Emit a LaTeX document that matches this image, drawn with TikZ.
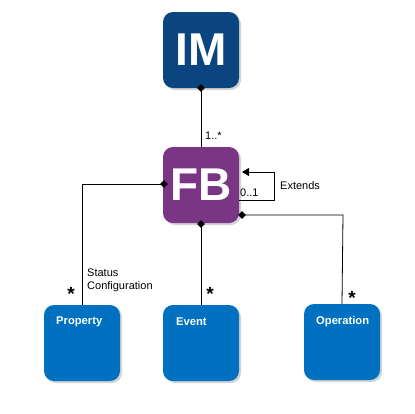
\documentclass[tikz,border=0pt]{standalone}
\usepackage{fontspec}
\setmainfont{Liberation Sans}
\usetikzlibrary{shadows}
\definecolor{imblue}{HTML}{0B4580}
\definecolor{fbpurple}{HTML}{7B3585}
\definecolor{boxblue}{HTML}{0070C0}
\tikzset{
  x=1pt, y=-1pt,
  bigbox/.style={rounded corners=10pt, minimum width=76pt, minimum height=76pt, inner sep=0pt,
     text=white, font=\bfseries\fontsize{46}{46}\selectfont, drop shadow={shadow xshift=2pt, shadow yshift=-2pt, opacity=0.35}},
  smallbox/.style={rounded corners=10pt, fill=boxblue, minimum width=76pt, minimum height=76pt, inner sep=0pt,
     drop shadow={shadow xshift=2pt, shadow yshift=-2pt, opacity=0.35}},
  boxlabel/.style={text=white, font=\bfseries\fontsize{11.2}{12}\selectfont, inner sep=0pt},
  lbl/.style={font=\fontsize{11}{13}\selectfont, inner sep=0pt},
  star/.style={font=\bfseries\fontsize{19}{19}\selectfont, inner sep=0pt},
  conn/.style={draw=black, line width=0.8pt},
  dia/.style={fill=black, diamond, inner sep=0pt, minimum size=8pt},
}
\usetikzlibrary{shapes.geometric,arrows.meta}
\begin{document}
\begin{tikzpicture}
\useasboundingbox (0,0) rectangle (415,413);
\node[bigbox, fill=imblue] (im) at (201,50) {IM};
\node[bigbox, fill=fbpurple] (fb) at (201,185) {FB};
\node[smallbox] (prop) at (82,343) {};
\node[smallbox] (evt) at (201,343) {};
\node[smallbox] (op) at (342,342) {};
\node[boxlabel, anchor=west] at (56,322) {Property};
\node[boxlabel, anchor=west] at (176,322) {Event};
\node[boxlabel, anchor=west] at (316,322) {Operation};
% diamonds
\coordinate (imb) at (201,88);
\coordinate (fbl) at (164,184);
\coordinate (fbb) at (201,224);
\coordinate (fbr) at (242,215);
\coordinate (loopin) at (242,172);
\coordinate (loopout) at (239,200);
\coordinate (loopa) at (274,172);
\coordinate (loopb) at (274,200);
\coordinate (propc) at (82,184);
\coordinate (opc) at (343,215);
\draw[conn] (imb) -- (fb.north);
\draw[conn] (fbl) -- (propc) -- (prop.north);
\draw[conn] (fbb) -- (evt.north);
\draw[conn] (fbr) -- (opc) -- (op.north);
\draw[conn, -{Triangle[length=7pt,width=8pt]}] (loopout) -- (loopb) -- (loopa) -- (loopin);
\node[dia] at (imb) {};
\node[dia] at (fbl) {};
\node[dia] at (fbb) {};
\node[dia] at (fbr) {};
% labels
\node[lbl, anchor=west] at (205,136) {1..*};
\node[lbl, anchor=west] at (240,193) {0..1};
\node[lbl, anchor=west] at (280,186) {Extends};
\node[lbl, anchor=west, align=left] at (87,280) {Status\\Configuration};
\node[star] at (71,294) {*};
\node[star] at (210,294) {*};
\node[star] at (352,298) {*};
\end{tikzpicture}
\end{document}
